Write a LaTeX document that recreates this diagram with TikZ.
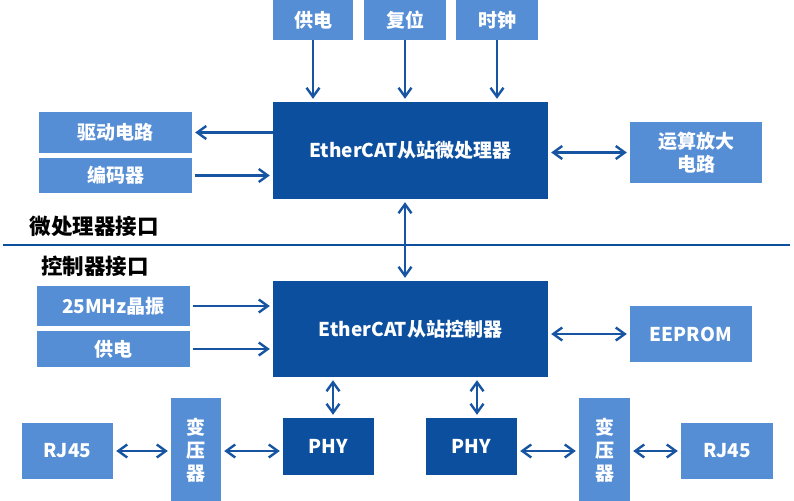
\documentclass[tikz,border=0pt]{standalone}
\usepackage{fontspec}
\setmainfont{Noto Sans CJK SC}
\usetikzlibrary{arrows.meta}
\definecolor{lblue}{HTML}{558ED5}
\definecolor{dblue}{HTML}{0B4F9E}
\definecolor{ablue}{HTML}{1755A3}
\begin{document}
\begin{tikzpicture}[x=1pt,y=-1pt,
    lbox/.style={fill=lblue,text=white,inner sep=0pt,align=center,font=\bfseries\fontsize{19}{23}\selectfont},
    dbox/.style={lbox,fill=dblue},
    link/.style={draw=ablue,line width=2.4pt,-{Straight Barb[length=9pt,width=13pt]},shorten >=3pt},
    both/.style={link,{Straight Barb[length=9pt,width=13pt]}-{Straight Barb[length=9pt,width=13pt]},shorten <=3pt},
    tag/.style={inner sep=0pt,font=\bfseries\fontsize{21.5}{24}\selectfont}]
    \clip (0,0) rectangle (794,500);
    \node[lbox,minimum width=80,minimum height=40] (pwrA) at (313,20) {供电};
    \node[lbox,minimum width=82,minimum height=40] (rst) at (405,20) {复位};
    \node[lbox,minimum width=82,minimum height=40] (clk) at (497,20) {时钟};
    \node[dbox,minimum width=275,minimum height=97] (mcu) at (410.5,150.5) {EtherCAT从站微处理器};
    \node[lbox,minimum width=153,minimum height=41] (drv) at (115.5,132.5) {驱动电路};
    \node[lbox,minimum width=153,minimum height=35] (enc) at (115.5,175.5) {编码器};
    \node[lbox,minimum width=132,minimum height=61] (amp) at (696,152.5) {运算放大\\电路};
    \node[tag] (upper) at (94,226) {微处理器接口};
    \coordinate (sepL) at (3,245);
    \coordinate (sepR) at (790,245);
    \draw[dblue,line width=2.5pt] (sepL) -- (sepR);
    \node[tag] (lower) at (95,266) {控制器接口};
    \node[dbox,minimum width=275,minimum height=96] (ctl) at (410.5,329) {EtherCAT从站控制器};
    \node[lbox,minimum width=153,minimum height=40] (osc) at (113.5,306) {25MHz晶振};
    \node[lbox,minimum width=153,minimum height=36] (pwrB) at (113.5,349) {供电};
    \node[lbox,minimum width=122,minimum height=56] (eep) at (691,334) {EEPROM};
    \node[dbox,minimum width=91,minimum height=57] (phyL) at (328.5,446.5) {PHY};
    \node[dbox,minimum width=91,minimum height=57] (phyR) at (471.5,446.5) {PHY};
    \node[lbox,minimum width=50,minimum height=104] (xfL) at (196,450) {变\\压\\器};
    \node[lbox,minimum width=51,minimum height=104] (xfR) at (604.5,450) {变\\压\\器};
    \node[lbox,minimum width=91,minimum height=56] (rjL) at (67.5,451) {RJ45};
    \node[lbox,minimum width=92,minimum height=56] (rjR) at (727,451) {RJ45};
    \draw[link] (pwrA) -- (mcu.north -| pwrA);
    \draw[link] (rst) -- (mcu.north -| rst);
    \draw[link] (clk) -- (mcu.north -| clk);
    \draw[link] (mcu.west |- drv) -- (drv.east);
    \draw[link,shorten <=3pt] (enc.east) -- (mcu.west |- enc.east);
    \draw[both] (mcu.east |- amp) -- (amp.west);
    \draw[both] (mcu.south -| rst) -- (ctl.north -| rst);
    \draw[link,shorten <=3pt] (osc.east) -- (ctl.west |- osc.east);
    \draw[link,shorten <=3pt] (pwrB.east) -- (ctl.west |- pwrB.east);
    \draw[both] (ctl.east |- eep) -- (eep.west);
    \draw[both] ([xshift=4.5pt]phyL.north |- ctl.south) -- ([xshift=4.5pt]phyL.north);
    \draw[both] ([xshift=5.5pt]phyR.north |- ctl.south) -- ([xshift=5.5pt]phyR.north);
    \draw[both] (rjL.east) -- (xfL.west |- rjL.east);
    \draw[both] (xfL.east |- rjL.east) -- (phyL.west |- rjL.east);
    \draw[both] (phyR.east |- rjR.west) -- (xfR.west |- rjR.west);
    \draw[both] (xfR.east |- rjR.west) -- (rjR.west);
\end{tikzpicture}
\end{document}
